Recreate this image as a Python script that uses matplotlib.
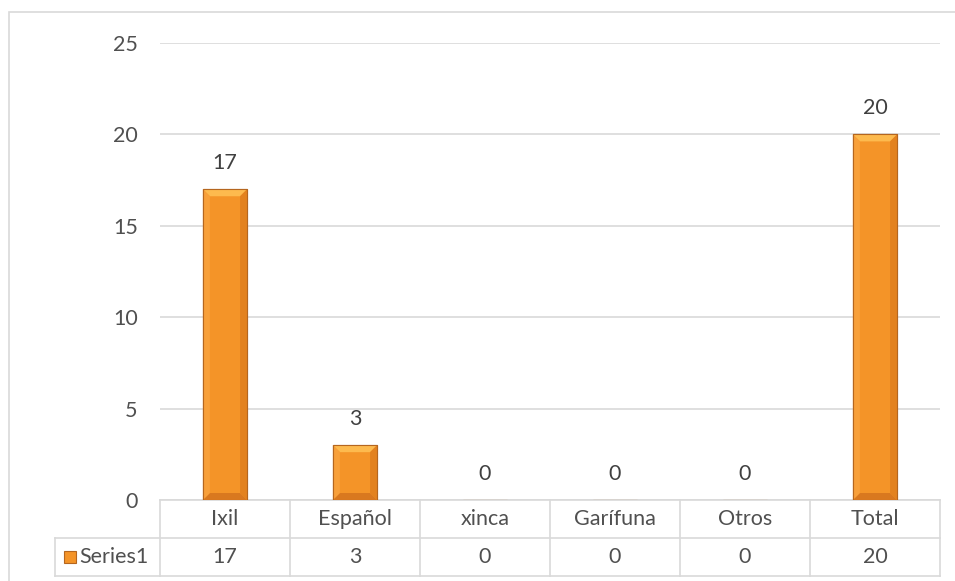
import matplotlib
matplotlib.use('Agg')
import matplotlib.pyplot as plt
from matplotlib.patches import Polygon, Rectangle
from matplotlib.lines import Line2D

plt.rcParams['font.family'] = ['Lato', 'DejaVu Sans']

categories = ['Ixil', 'Español', 'xinca', 'Garífuna', 'Otros', 'Total']
values = [17, 3, 0, 0, 0, 20]
series_name = 'Series1'
y_ticks = [0, 5, 10, 15, 20, 25]

W, H = 955, 581
fig = plt.figure(figsize=(W / 100, H / 100), dpi=100)

# marco exterior del gráfico
fig.patches.append(Rectangle((9 / W, -0.05), 1, 1.05 - 12 / H, transform=fig.transFigure,
                             fill=False, edgecolor='#D9D9D9', linewidth=1.2))

ax = fig.add_axes([160 / W, 1 - 500 / H, 780 / W, 457 / H])
txt = '#505050'
grid = '#D9D9D9'
fs = 15.5

bar_w = 0.34
x = list(range(len(categories)))
bars = ax.bar(x, values, width=bar_w, color='#F49428', edgecolor='#B5661F',
              linewidth=0.8, zorder=3)

# efecto biselado sobre cada barra
px_x = 1 / 130.0
px_y = 25 / 457.0
for xi, v in zip(x, values):
    if v <= 0:
        continue
    l, r = xi - bar_w / 2, xi + bar_w / 2
    bx, by = 7 * px_x, 7 * px_y
    ax.add_patch(Polygon([(l, v), (r, v), (r - bx, v - by), (l + bx, v - by)],
                         closed=True, facecolor='#FDBA4E', edgecolor='none', zorder=4))
    ax.add_patch(Polygon([(l, 0), (r, 0), (r - bx, by), (l + bx, by)],
                         closed=True, facecolor='#D9781F', edgecolor='none', zorder=4))
    ax.add_patch(Polygon([(r, 0), (r, v), (r - bx, v - by), (r - bx, by)],
                         closed=True, facecolor='#E3821F', edgecolor='none', zorder=4))
    ax.add_patch(Polygon([(l, 0), (l, v), (l + bx, v - by), (l + bx, by)],
                         closed=True, facecolor='#F8A03A', edgecolor='none', zorder=4))
    ax.add_patch(Rectangle((l, 0), bar_w, v, fill=False, edgecolor='#B5661F',
                           linewidth=0.8, zorder=5))

# etiquetas de datos
for xi, v in zip(x, values):
    ax.annotate(str(v), (xi, v), xytext=(0, 19), textcoords='offset points',
                ha='center', va='center', fontsize=fs, color='#404040')

ax.set_xlim(-0.5, len(categories) - 0.5)
ax.set_ylim(0, 25)
ax.set_yticks(y_ticks)
ax.set_yticklabels([str(t) for t in y_ticks], fontsize=fs, color=txt)
ax.tick_params(axis='y', length=0, pad=16)
ax.set_xticks([])
ax.grid(axis='y', color=grid, linewidth=1.2, zorder=0)
for s in ax.spines.values():
    s.set_visible(False)

# tabla de datos bajo el eje
row_h = 38 / 457.0
lk = dict(color=grid, linewidth=1.2, transform=ax.transAxes, clip_on=False)
ax.add_line(Line2D([0, 1], [0, 0], **lk))
ax.add_line(Line2D([-105 / 780, 1], [-row_h, -row_h], **lk))
ax.add_line(Line2D([-105 / 780, 1], [-2 * row_h, -2 * row_h], **lk))
ax.add_line(Line2D([-105 / 780, -105 / 780], [-row_h, -2 * row_h], **lk))
n = len(categories)
for i in range(n + 1):
    ax.add_line(Line2D([i / n, i / n], [0, -2 * row_h], **lk))
for i, (c, v) in enumerate(zip(categories, values)):
    xc = (i + 0.5) / n
    ax.text(xc, -0.5 * row_h, c, transform=ax.transAxes, ha='center', va='center',
            fontsize=fs, color=txt)
    ax.text(xc, -1.5 * row_h, str(v), transform=ax.transAxes, ha='center', va='center',
            fontsize=fs, color=txt)

# clave de leyenda y nombre de la serie
ax.add_patch(Rectangle((-96 / 780, -1.5 * row_h - 6 / 457), 12 / 780, 12 / 457,
                       transform=ax.transAxes, clip_on=False, facecolor='#F49428',
                       edgecolor='#B5661F', linewidth=0.8))
ax.text(-81 / 780, -1.5 * row_h, series_name, transform=ax.transAxes, ha='left',
        va='center', fontsize=fs, color=txt)

fig.savefig('out.png', dpi=100)
